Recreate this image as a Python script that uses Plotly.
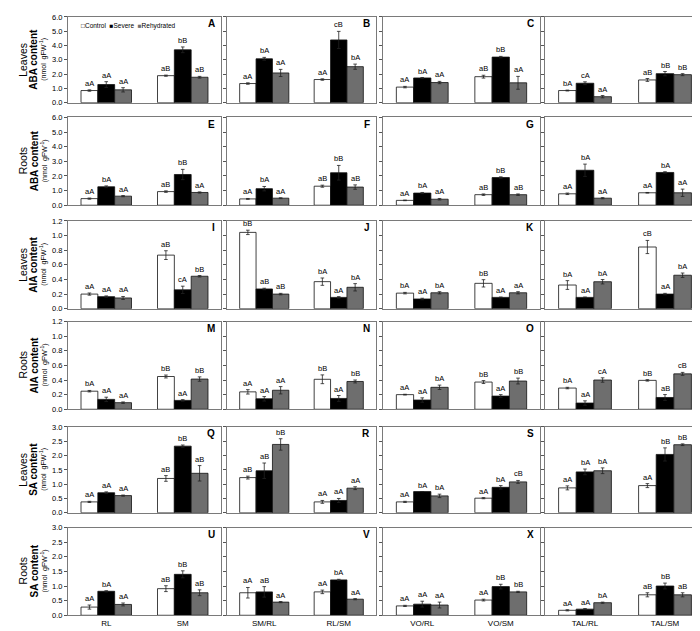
import plotly.graph_objects as go

# ── Data ───────────────────────────────────────────────────────────────────────
TREATMENTS = ["Control", "Severe", "Rehydrated"]
FILLS = ["#ffffff", "#000000", "#6e6e6e"]

GENOTYPES = [["RL", "SM"], ["SM/RL", "RL/SM"], ["VO/RL", "VO/SM"], ["TAL/RL", "TAL/SM"]]
LETTERS = [["A", "B", "C", "D"], ["E", "F", "G", "H"], ["I", "J", "K", "L"],
           ["M", "N", "O", "P"], ["Q", "R", "S", "T"], ["U", "V", "X", "Z"]]

ROW_TISSUE = ["Leaves", "Roots", "Leaves", "Roots", "Leaves", "Roots"]
ROW_HORMONE = ["ABA", "ABA", "AIA", "AIA", "SA", "SA"]
ROW_YMAX = [6.0, 6.0, 1.2, 1.2, 3.0, 3.0]
ROW_DTICK = [1.0, 1.0, 0.2, 0.2, 0.5, 0.5]

# each panel: Control, Severe, Rehydrated of genotype 1, then the same of genotype 2
ABA_LEAVES = [[0.85, 1.27, 0.90, 1.89, 3.70, 1.78],
              [1.34, 3.07, 2.08, 1.62, 4.39, 2.52],
              [1.09, 1.73, 1.41, 1.82, 3.19, 1.39],
              [0.85, 1.36, 0.42, 1.59, 2.03, 1.96]]
ABA_LEAVES_ERR = [[0.05, 0.20, 0.15, 0.04, 0.20, 0.06],
                  [0.05, 0.10, 0.25, 0.05, 0.60, 0.18],
                  [0.05, 0.03, 0.08, 0.10, 0.05, 0.45],
                  [0.03, 0.10, 0.08, 0.10, 0.15, 0.07]]
ABA_LEAVES_SIG = [["aA", "aA", "aA", "aB", "bB", "aB"],
                  ["aA", "bA", "aA", "aA", "cB", "bA"],
                  ["aA", "bA", "aA", "aB", "bB", "aA"],
                  ["bA", "cA", "aA", "aB", "bB", "bB"]]

ABA_ROOTS = [[0.45, 1.26, 0.62, 0.93, 2.10, 0.87],
             [0.43, 1.13, 0.48, 1.30, 2.22, 1.24],
             [0.33, 0.83, 0.41, 0.72, 1.89, 0.72],
             [0.78, 2.39, 0.48, 0.85, 2.24, 0.85]]
ABA_ROOTS_ERR = [[0.04, 0.06, 0.04, 0.05, 0.35, 0.04],
                 [0.03, 0.15, 0.03, 0.07, 0.50, 0.15],
                 [0.02, 0.04, 0.05, 0.05, 0.05, 0.05],
                 [0.05, 0.42, 0.04, 0.02, 0.05, 0.25]]
ABA_ROOTS_SIG = [["aA", "bA", "aA", "aB", "bB", "aA"],
                 ["aA", "bA", "aA", "aB", "bB", "aB"],
                 ["aA", "bA", "aA", "aB", "bB", "aB"],
                 ["aA", "bA", "aA", "aA", "bA", "aA"]]

AIA_LEAVES = [[0.200, 0.165, 0.147, 0.733, 0.258, 0.444],
              [1.044, 0.270, 0.200, 0.370, 0.155, 0.293],
              [0.213, 0.133, 0.218, 0.347, 0.155, 0.218],
              [0.324, 0.155, 0.369, 0.844, 0.200, 0.458]]
AIA_LEAVES_ERR = [[0.015, 0.010, 0.020, 0.060, 0.050, 0.010],
                  [0.030, 0.010, 0.010, 0.050, 0.010, 0.050],
                  [0.010, 0.010, 0.015, 0.050, 0.005, 0.015],
                  [0.060, 0.005, 0.030, 0.090, 0.010, 0.030]]
AIA_LEAVES_SIG = [["aA", "aA", "aA", "aB", "cA", "bB"],
                  ["bB", "aB", "aB", "bA", "aA", "bA"],
                  ["bA", "aA", "bA", "bB", "aA", "aA"],
                  ["bA", "aA", "bA", "cB", "aA", "bA"]]

AIA_ROOTS = [[0.247, 0.135, 0.090, 0.448, 0.121, 0.413],
             [0.238, 0.143, 0.260, 0.410, 0.148, 0.380],
             [0.200, 0.126, 0.300, 0.372, 0.180, 0.386],
             [0.290, 0.085, 0.400, 0.395, 0.161, 0.484]]
AIA_ROOTS_ERR = [[0.010, 0.030, 0.010, 0.020, 0.010, 0.030],
                 [0.030, 0.030, 0.050, 0.060, 0.040, 0.020],
                 [0.005, 0.030, 0.030, 0.020, 0.020, 0.040],
                 [0.010, 0.030, 0.030, 0.010, 0.040, 0.020]]
AIA_ROOTS_SIG = [["bA", "aA", "aA", "bB", "aA", "bB"],
                 ["aA", "aA", "aA", "bB", "aA", "bB"],
                 ["aA", "aA", "bA", "bB", "aA", "bB"],
                 ["bA", "aA", "cA", "bB", "aB", "cB"]]

SA_LEAVES = [[0.38, 0.70, 0.60, 1.20, 2.33, 1.38],
             [1.23, 1.47, 2.39, 0.38, 0.43, 0.86],
             [0.38, 0.74, 0.59, 0.51, 0.89, 1.08],
             [0.87, 1.43, 1.47, 0.95, 2.04, 2.38]]
SA_LEAVES_ERR = [[0.02, 0.03, 0.02, 0.10, 0.04, 0.27],
                 [0.05, 0.27, 0.20, 0.05, 0.07, 0.05],
                 [0.02, 0.00, 0.06, 0.02, 0.06, 0.05],
                 [0.07, 0.10, 0.10, 0.07, 0.23, 0.03]]
SA_LEAVES_SIG = [["aA", "aA", "aA", "aB", "bB", "aB"],
                 ["aB", "aB", "bB", "aA", "aA", "aA"],
                 ["aA", "bA", "bA", "aA", "bA", "cB"],
                 ["aA", "bA", "bA", "aA", "bB", "bB"]]

SA_ROOTS = [[0.28, 0.82, 0.37, 0.91, 1.40, 0.77],
            [0.77, 0.80, 0.45, 0.80, 1.21, 0.55],
            [0.32, 0.38, 0.35, 0.52, 0.98, 0.80],
            [0.17, 0.21, 0.43, 0.70, 1.00, 0.70]]
SA_ROOTS_ERR = [[0.07, 0.02, 0.05, 0.10, 0.12, 0.10],
                [0.18, 0.18, 0.02, 0.06, 0.02, 0.02],
                [0.02, 0.10, 0.10, 0.03, 0.08, 0.02],
                [0.02, 0.02, 0.02, 0.07, 0.10, 0.07]]
SA_ROOTS_SIG = [["aA", "bA", "aA", "aB", "bB", "aB"],
                ["aA", "aB", "aA", "aA", "bA", "aA"],
                ["aA", "aA", "aA", "aA", "bB", "bB"],
                ["aA", "aA", "bA", "aB", "bB", "aB"]]

ROW_VALUES = [ABA_LEAVES, ABA_ROOTS, AIA_LEAVES, AIA_ROOTS, SA_LEAVES, SA_ROOTS]
ROW_ERRORS = [ABA_LEAVES_ERR, ABA_ROOTS_ERR, AIA_LEAVES_ERR, AIA_ROOTS_ERR, SA_LEAVES_ERR, SA_ROOTS_ERR]
ROW_SIGS = [ABA_LEAVES_SIG, ABA_ROOTS_SIG, AIA_LEAVES_SIG, AIA_ROOTS_SIG, SA_LEAVES_SIG, SA_ROOTS_SIG]

# ── Layout geometry (pixels in a 700x631 page) ────────────────────────────────
W, H = 700, 631
COL_PX = [(60, 213), (219, 368), (375, 532), (537, 697)]
ROW_PX = [(5, 92), (107, 196), (212, 301), (314, 403), (421, 508), (523, 612)]
BAR_W = 0.22
FONT = "Liberation Sans, Arial, sans-serif"
BORDER = "#7a7a7a"

fig = go.Figure()
layout = dict(
    width=W, height=H,
    margin=dict(l=0, r=0, t=0, b=0),
    paper_bgcolor="white", plot_bgcolor="white",
    showlegend=False,
    font=dict(family=FONT, color="#000000", size=8),
    annotations=[],
)

for r in range(6):
    top, bot = ROW_PX[r]
    for c in range(4):
        n = r * 4 + c + 1
        xa = "x" if n == 1 else f"x{n}"
        ya = "y" if n == 1 else f"y{n}"
        vals = ROW_VALUES[r][c]
        errs = ROW_ERRORS[r][c]
        sigs = ROW_SIGS[r][c]

        for t, name in enumerate(TREATMENTS):
            idx = [t, t + 3]
            xs = [g + (t - 1) * BAR_W for g in (0, 1)]
            fig.add_trace(go.Bar(
                x=xs, y=[vals[i] for i in idx], width=BAR_W, name=name,
                marker=dict(color=FILLS[t], line=dict(color="#111", width=0.8)),
                error_y=dict(type="data", array=[errs[i] for i in idx],
                             color="#222", thickness=0.8, width=1.8),
                xaxis=xa, yaxis=ya,
            ))

        # significance letters above each error bar
        for i in range(6):
            layout["annotations"].append(dict(
                text=sigs[i], xref=xa, yref=ya,
                x=i // 3 + (i % 3 - 1) * BAR_W, y=vals[i] + errs[i],
                xanchor="center", yanchor="bottom", yshift=0, showarrow=False,
                font=dict(size=7.5, color="#000000"),
            ))

        left, right = COL_PX[c]
        layout[f"xaxis{n}"] = dict(
            domain=[left / W, right / W], anchor=ya, range=[-0.5, 1.5],
            tickvals=[0, 1], ticktext=GENOTYPES[c], showticklabels=(r == 5),
            ticks="", showline=True, mirror=True, linecolor=BORDER, linewidth=1,
            showgrid=False, zeroline=False,
            tickfont=dict(size=8, color="#000000"),
        )
        layout[f"yaxis{n}"] = dict(
            domain=[1 - bot / H, 1 - top / H], anchor=xa, range=[0, ROW_YMAX[r]],
            dtick=ROW_DTICK[r], tickformat=".1f", showticklabels=(c == 0),
            ticks="outside", ticklen=3, tickcolor="#555",
            showline=True, mirror=True, linecolor=BORDER, linewidth=1,
            showgrid=False, zeroline=False,
            tickfont=dict(size=7.5, color="#000000"),
        )
        layout["annotations"].append(dict(
            text=f"<b>{LETTERS[r][c]}</b>", xref=f"{xa} domain", yref=f"{ya} domain",
            x=0.975, y=0.92, xanchor="right", yanchor="middle", showarrow=False,
            font=dict(size=10, color="#000"),
        ))

    # row title on the left
    ymid = 1 - (top + bot) / 2 / H
    for px, txt, size in [(15, ROW_TISSUE[r], 10.5),
                          (26, f"<b>{ROW_HORMONE[r]} content</b>", 10),
                          (36, "(nmol  gFW<sup>-1</sup>)", 7)]:
        layout["annotations"].append(dict(
            text=txt, xref="paper", yref="paper", x=px / W, y=ymid,
            xanchor="center", yanchor="middle", textangle=-90, showarrow=False,
            font=dict(size=size, color="#000000"),
        ))

# treatment key inside panel A
layout["annotations"].append(dict(
    text=("<span style='color:#000'>□</span>Control  "
          "<span style='color:#000'>■</span>Severe  "
          "<span style='color:#6e6e6e'>■</span>Rehydrated"),
    xref="x domain", yref="y domain", x=0.07, y=0.9,
    xanchor="left", yanchor="middle", showarrow=False,
    font=dict(size=6.5, color="#000000"),
))

fig.update_layout(**layout)
fig.write_html("out.html")
